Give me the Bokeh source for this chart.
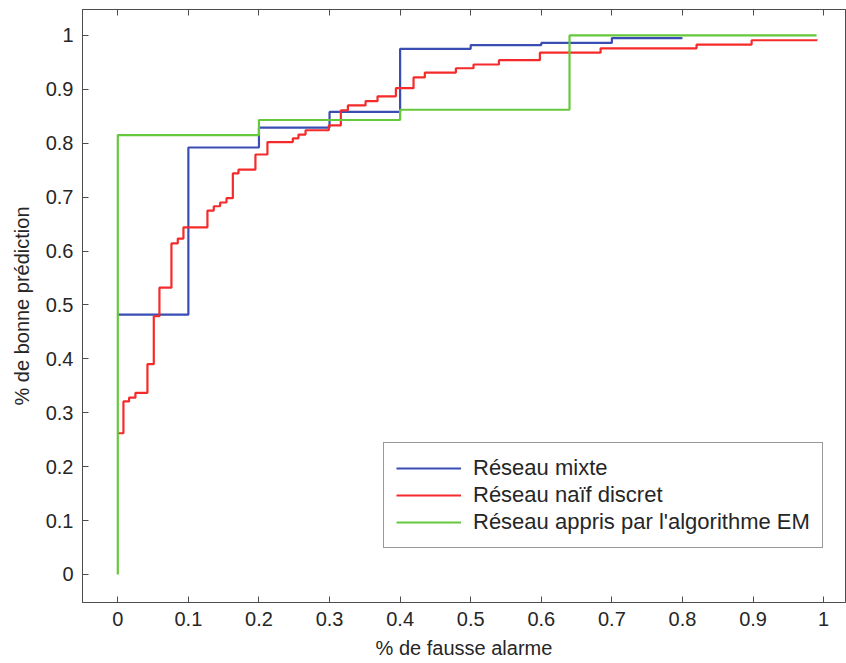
from bokeh.plotting import figure
from bokeh.models import LinearAxis, FixedTicker, Legend, LegendItem, Range1d
from bokeh.embed import file_html
from bokeh.resources import INLINE

# --- data ---
mixte_x = [0.0, 0.1, 0.2, 0.3, 0.4, 0.5, 0.6, 0.7, 0.8]
mixte_y = [0.482, 0.792, 0.829, 0.858, 0.975, 0.982, 0.986, 0.995, 0.995]

naif_x = [0.0, 0.008, 0.016, 0.025, 0.042, 0.051, 0.059, 0.076, 0.085, 0.093,
          0.127, 0.136, 0.145, 0.154, 0.163, 0.171, 0.195, 0.212, 0.248, 0.256,
          0.266, 0.299, 0.316, 0.326, 0.351, 0.368, 0.394, 0.419, 0.435, 0.479,
          0.504, 0.540, 0.598, 0.684, 0.820, 0.898, 0.990]
naif_y = [0.262, 0.321, 0.328, 0.337, 0.390, 0.479, 0.532, 0.614, 0.623, 0.644,
          0.675, 0.683, 0.690, 0.698, 0.744, 0.751, 0.779, 0.802, 0.809, 0.816,
          0.824, 0.833, 0.861, 0.870, 0.878, 0.887, 0.902, 0.922, 0.931, 0.939,
          0.946, 0.954, 0.968, 0.976, 0.983, 0.991, 0.993]

em_x = [0.0, 0.0, 0.2, 0.4, 0.64, 0.99]
em_y = [0.0, 0.815, 0.843, 0.862, 1.0, 1.0]

series_names = ["Réseau mixte", "Réseau naïf discret",
                "Réseau appris par l'algorithme EM"]

x_ticks = [0, 0.1, 0.2, 0.3, 0.4, 0.5, 0.6, 0.7, 0.8, 0.9, 1]
x_tick_labels = ["0", "0.1", "0.2", "0.3", "0.4", "0.5", "0.6", "0.7", "0.8", "0.9", "1"]
y_ticks = x_ticks
y_tick_labels = x_tick_labels

x_label = "% de fausse alarme"
y_label = "% de bonne prédiction"

FONT = "Liberation Sans"
FS = "20px"
AX_COLOR = "#4d4d4d"

p = figure(width=846, height=663, output_backend="svg", toolbar_location=None,
           x_range=Range1d(-0.05, 1.031), y_range=Range1d(-0.052, 1.048),
           min_border_left=82, min_border_right=1, min_border_top=9,
           min_border_bottom=61, x_axis_location=None, y_axis_location=None)
p.xgrid.visible = False
p.ygrid.visible = False
p.outline_line_color = AX_COLOR
p.outline_line_width = 1
p.background_fill_color = "white"
p.border_fill_color = "white"


def style_axis(ax, ticks, labels, show_labels=True):
    ax.ticker = FixedTicker(ticks=ticks)
    ax.major_label_overrides = {t: l for t, l in zip(ticks, labels)}
    ax.major_tick_in = 6
    ax.major_tick_out = 0
    ax.minor_tick_in = 0
    ax.minor_tick_out = 0
    ax.major_tick_line_color = AX_COLOR
    ax.axis_line_color = AX_COLOR
    ax.major_label_text_font = FONT
    ax.major_label_text_font_size = FS if show_labels else "0px"
    ax.major_label_text_color = "#262626"
    ax.axis_label_text_font = FONT
    ax.axis_label_text_font_size = FS
    ax.axis_label_text_font_style = "normal"
    ax.axis_label_text_color = "#262626"


xb = LinearAxis(axis_label=x_label)
style_axis(xb, x_ticks, x_tick_labels)
xb.major_label_standoff = 9
xb.axis_label_standoff = 8
p.add_layout(xb, "below")

yl = LinearAxis(axis_label=y_label)
style_axis(yl, y_ticks, y_tick_labels)
yl.major_label_standoff = 9
yl.axis_label_standoff = 10
p.add_layout(yl, "left")

xt = LinearAxis()
style_axis(xt, x_ticks, x_tick_labels, show_labels=False)
xt.major_label_standoff = 0
p.add_layout(xt, "above")

r_mixte = p.step(mixte_x, mixte_y, mode="after", line_color="#3a4db3", line_width=2.2)
r_naif = p.step(naif_x, naif_y, mode="after", line_color="#f52a2a", line_width=2.2)
r_em = p.step(em_x, em_y, mode="after", line_color="#66c83c", line_width=2.2)

legend = Legend(items=[LegendItem(label=series_names[0], renderers=[r_mixte]),
                       LegendItem(label=series_names[1], renderers=[r_naif]),
                       LegendItem(label=series_names[2], renderers=[r_em])],
                location=(301, 54))
legend.label_text_font = FONT
legend.label_text_font_size = "22px"
legend.label_text_color = "#262626"
legend.glyph_width = 65
legend.glyph_height = 20
legend.label_standoff = 12
legend.label_height = 20
legend.spacing = 1
legend.padding = 12
legend.margin = 0
legend.border_line_color = "#333333"
legend.border_line_width = 1
legend.background_fill_alpha = 1
p.add_layout(legend, "center")

open("out.html", "w").write(file_html(p, INLINE))
